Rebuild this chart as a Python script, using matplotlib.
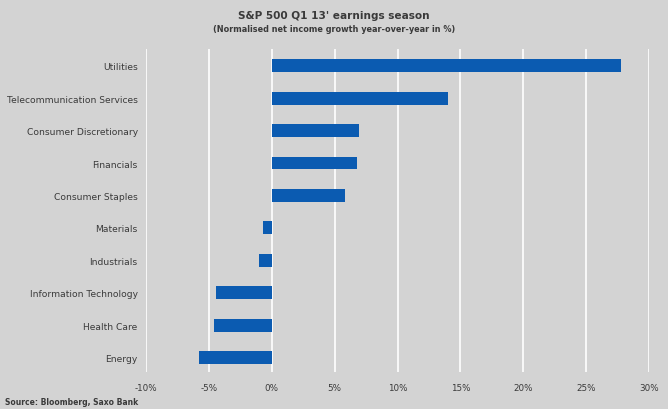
import matplotlib.pyplot as plt
from matplotlib.ticker import FuncFormatter

sectors = [
    "Utilities",
    "Telecommunication Services",
    "Consumer Discretionary",
    "Financials",
    "Consumer Staples",
    "Materials",
    "Industrials",
    "Information Technology",
    "Health Care",
    "Energy",
]
growth = [27.8, 14.0, 6.9, 6.8, 5.8, -0.7, -1.0, -4.4, -4.6, -5.8]
x_ticks = [-10, -5, 0, 5, 10, 15, 20, 25, 30]

bg = "#d3d3d3"
bar_color = "#0b5bb1"
text_color = "#3a3a3a"

fig = plt.figure(figsize=(6.68, 4.10), dpi=100, facecolor=bg)
ax = fig.add_axes([0.2186, 0.0902, 0.753, 0.788], facecolor=bg)

# categories top-to-bottom, so reverse for barh
ypos = list(range(len(sectors)))[::-1]
ax.barh(ypos, growth, height=0.4, color=bar_color, zorder=3)

ax.set_xlim(-10, 30)
ax.set_ylim(-0.45, 9.52)
ax.set_xticks(x_ticks)
ax.xaxis.set_major_formatter(FuncFormatter(lambda v, _: f"{v:.0f}%"))
ax.set_yticks(ypos)
ax.set_yticklabels(sectors)
ax.grid(axis="x", color="white", lw=1.2, zorder=1)
ax.tick_params(length=0, labelcolor=text_color)
ax.tick_params(axis="y", pad=6, labelsize=6.6)
ax.tick_params(axis="x", pad=8, labelsize=6.3)
for s in ax.spines.values():
    s.set_visible(False)

fig.text(0.5, 0.962, "S&P 500 Q1 13' earnings season", ha="center", va="center",
         fontsize=7.6, fontweight="bold", color=text_color)
fig.text(0.5, 0.927, "(Normalised net income growth year-over-year in %)", ha="center",
         va="center", fontsize=5.9, fontweight="bold", color=text_color)
fig.text(0.008, 0.018, "Source: Bloomberg, Saxo Bank", ha="left", va="center",
         fontsize=5.5, fontweight="bold", color=text_color)

fig.savefig("out.png", dpi=100, facecolor=bg)
